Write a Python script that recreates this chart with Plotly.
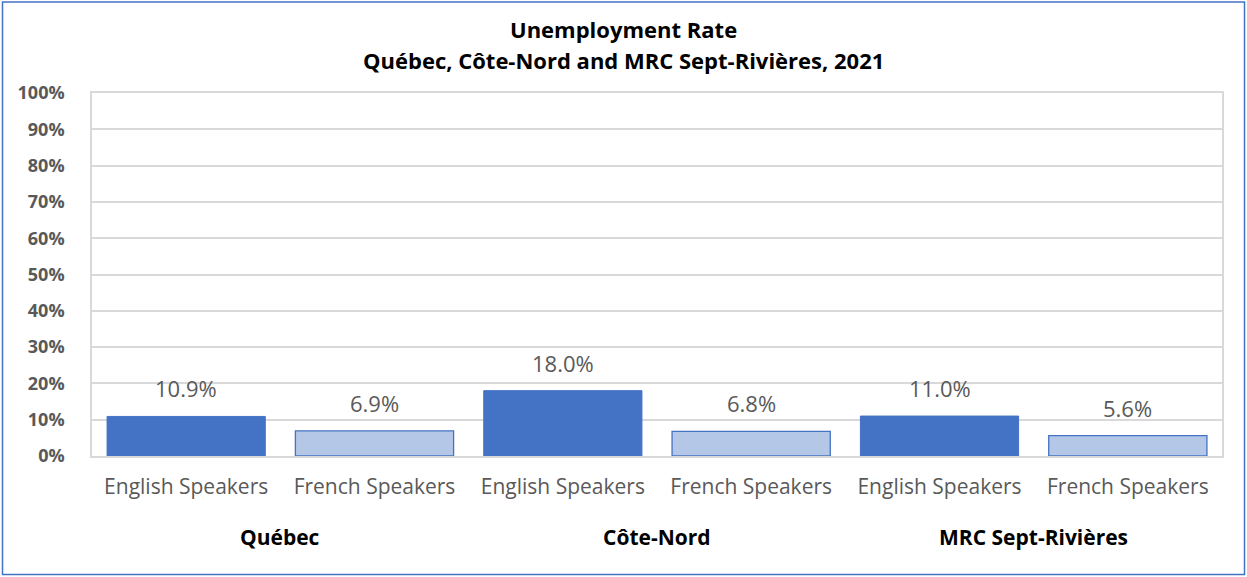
import plotly.graph_objects as go

regions = ["Québec", "Côte-Nord", "MRC Sept-Rivières"]
speakers = ["English Speakers", "French Speakers"]
english_values = [10.9, 18.0, 11.0]
french_values = [6.9, 6.8, 5.6]
y_ticks = [0, 10, 20, 30, 40, 50, 60, 70, 80, 90, 100]
y_tick_labels = [f"{v}%" for v in y_ticks]
title_lines = ["Unemployment Rate", "Québec, Côte-Nord and MRC Sept-Rivières, 2021"]

W, H = 1247, 577
ml, mr, mt, mb = 92, 25, 93, 121
pw, ph = W - ml - mr, H - mt - mb

eng_x = [2 * i for i in range(len(regions))]
fr_x = [2 * i + 1 for i in range(len(regions))]

FONT = "Open Sans"
GRAY = "#595959"

fig = go.Figure()
fig.add_trace(go.Bar(x=eng_x, y=english_values, marker=dict(color="#4472C4", line=dict(color="#4472C4", width=1)),
                     width=0.84, showlegend=False, hoverinfo="y"))
fig.add_trace(go.Bar(x=fr_x, y=french_values, marker=dict(color="#B4C7E7", line=dict(color="#4472C4", width=1.3)),
                     width=0.84, showlegend=False, hoverinfo="y"))

annotations = []
for xs, vals in ((eng_x, english_values), (fr_x, french_values)):
    for x, v in zip(xs, vals):
        annotations.append(dict(x=x, y=v, xref="x", yref="y", text=f"{v:.1f}%", showarrow=False,
                                yanchor="middle", yshift=28, font=dict(family=FONT, size=22, color=GRAY)))
for i, r in enumerate(regions):
    annotations.append(dict(x=2 * i + 0.5, y=-(537 - 456) / ph, xref="x", yref="paper", text=f"<b>{r}</b>",
                            showarrow=False, yanchor="middle", font=dict(family=FONT, size=21, color="#000000")))
page_center = (W / 2 - ml) / pw
for line, ypix in zip(title_lines, (29, 60)):
    annotations.append(dict(x=page_center, xref="paper", xanchor="center", y=1 + (mt - ypix) / ph, yref="paper",
                            yanchor="middle", text=f"<b>{line}</b>", showarrow=False,
                            font=dict(family=FONT, size=22, color="#000000")))

fig.update_layout(
    width=W, height=H,
    margin=dict(l=ml, r=mr, t=mt, b=mb),
    paper_bgcolor="white", plot_bgcolor="white",
    bargap=0.16,
    annotations=annotations,
    shapes=[dict(type="rect", xref="paper", yref="paper",
                 x0=(2.5 - ml) / pw, x1=1 + (mr - 2.5) / pw, y0=-(mb - 2.5) / ph, y1=1 + (mt - 2) / ph,
                 line=dict(color="#4472C4", width=1.5), fillcolor="rgba(0,0,0,0)", layer="below")],
)
fig.update_xaxes(range=[-0.5, 5.5], tickmode="array", tickvals=eng_x + fr_x,
                 ticktext=[speakers[0]] * 3 + [speakers[1]] * 3,
                 tickfont=dict(family=FONT, size=21, color=GRAY), ticks="", ticklabelstandoff=11,
                 showline=True, linecolor="#D9D9D9", linewidth=1.5, mirror=True, showgrid=False, zeroline=False)
fig.update_yaxes(range=[0, 100], tickmode="array", tickvals=y_ticks, ticktext=y_tick_labels,
                 tickfont=dict(family=FONT, size=18, color=GRAY, weight="bold"), showgrid=True,
                 gridcolor="#D9D9D9", gridwidth=1.5,
                 showline=True, linecolor="#D9D9D9", linewidth=1.5, mirror=True, zeroline=False, ticks="",
                 ticklabelstandoff=22)

fig.write_html("out.html", config={"displayModeBar": False},
               post_script="document.body.style.margin='0';document.body.style.overflow='hidden';")
